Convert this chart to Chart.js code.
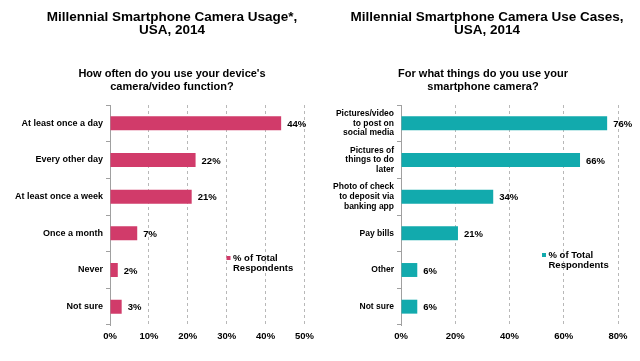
<!DOCTYPE html>
<html>
<head>
<meta charset="utf-8">
<script src="https://cdn.jsdelivr.net/npm/chart.js@4"></script>
<style>
  body { margin: 0; background: #fff; font-family: Arial, "Liberation Sans", sans-serif; }
  .box { position: absolute; top: 0; width: 320px; height: 361px; }
  .title { position: absolute; width: 320px; text-align: center; font-weight: bold; color: #000; line-height: 13px; }
  .main { top: 10px; font-size: 13.5px; }
  .sub { top: 67px; font-size: 11px; }
</style>
</head>
<body>
<div class="box" style="left:0"><canvas id="chartLeft"></canvas></div>
<div class="box" style="left:320px"><canvas id="chartRight"></canvas></div>
<div class="title main" style="left:12px">Millennial Smartphone Camera Usage*,<br>USA, 2014</div>
<div class="title sub" style="left:12px">How often do you use your device's<br>camera/video function?</div>
<div class="title main" style="left:327px">Millennial Smartphone Camera Use Cases,<br>USA, 2014</div>
<div class="title sub" style="left:323px">For what things do you use your<br>smartphone camera?</div>
<script>
// left chart data
const freqLabels = ['At least once a day', 'Every other day', 'At least once a week', 'Once a month', 'Never', 'Not sure'];
const freqValues = [44, 22, 21, 7, 2, 3];
const freqTicks = [0, 10, 20, 30, 40, 50];

// right chart data
const useLabels = [
    ['Pictures/video', 'to post on', 'social media'],
    ['Pictures of', 'things to do', 'later'],
    ['Photo of check', 'to deposit via', 'banking app'],
    'Pay bills', 'Other', 'Not sure'
];
const useValues = [76, 66, 34, 21, 6, 6];
const useTicks = [0, 20, 40, 60, 80];

const seriesName = ['% of Total', 'Respondents'];
const FONT = 'Arial, "Liberation Sans", sans-serif';

// value labels at the end of each bar
const valueLabels = {
    id: 'valueLabels',
    afterDatasetsDraw(chart) {
        const ctx = chart.ctx;
        const meta = chart.getDatasetMeta(0);
        ctx.save();
        ctx.font = 'bold 9.5px ' + FONT;
        ctx.fillStyle = '#000';
        ctx.textBaseline = 'middle';
        meta.data.forEach((bar, i) => {
            ctx.fillText(chart.data.datasets[0].data[i] + '%', bar.x + 6, bar.y + 1);
        });
        ctx.restore();
    }
};

// legend floating inside the plot
const innerLegend = {
    id: 'innerLegend',
    afterDraw(chart, args, opts) {
        const ctx = chart.ctx;
        ctx.save();
        ctx.fillStyle = chart.data.datasets[0].backgroundColor;
        ctx.fillRect(opts.x, opts.y - 2, 4, 4);
        ctx.fillStyle = '#000';
        ctx.font = 'bold 9.5px ' + FONT;
        ctx.textBaseline = 'middle';
        seriesName.forEach((t, i) => ctx.fillText(t, opts.x + 6.5, opts.y + i * 10.5));
        ctx.restore();
    }
};

function makeChart(id, labels, values, ticks, color, leftW, rightPad, tickFont, legendPos) {
    return new Chart(document.getElementById(id), {
        type: 'bar',
        data: {
            labels: labels,
            datasets: [{
                label: seriesName.join(' '),
                data: values,
                backgroundColor: color,
                barPercentage: 0.38,
                categoryPercentage: 1
            }]
        },
        options: {
            indexAxis: 'y',
            responsive: false,
            animation: false,
            layout: { padding: { top: 105, right: rightPad, bottom: 0, left: 0 } },
            plugins: {
                legend: { display: false },
                tooltip: { enabled: false },
                innerLegend: legendPos
            },
            scales: {
                x: {
                    min: ticks[0],
                    max: ticks[ticks.length - 1],
                    afterBuildTicks: s => { s.ticks = ticks.map(v => ({ value: v })); },
                    afterFit: s => { s.height = 36; },
                    grid: { color: '#b8b8b8', drawTicks: false },
                    border: { display: false, dash: [3, 3] },
                    ticks: {
                        padding: 6,
                        color: '#000',
                        font: { family: FONT, size: 9.5, weight: 'bold' },
                        callback: v => v + '%'
                    }
                },
                y: {
                    afterFit: s => { s.width = leftW; },
                    grid: { drawOnChartArea: false, color: '#a0a0a0', tickLength: 4 },
                    border: { display: true, color: '#a0a0a0' },
                    ticks: {
                        padding: 3,
                        color: '#000',
                        font: tickFont
                    }
                }
            }
        },
        plugins: [valueLabels, innerLegend]
    });
}

function sizeCanvas(id) {
    const c = document.getElementById(id);
    c.width = 320; c.height = 361;
    c.style.width = '320px'; c.style.height = '361px';
}
sizeCanvas('chartLeft');
sizeCanvas('chartRight');

makeChart('chartLeft', freqLabels, freqValues, freqTicks, '#d13b6a', 110, 15,
    { family: FONT, size: 9, weight: 'bold', lineHeight: '10px' },
    { x: 226.5, y: 258 });

makeChart('chartRight', useLabels, useValues, useTicks, '#12aaad', 81, 22,
    { family: FONT, size: 8.5, weight: 'bold', lineHeight: '9.7px' },
    { x: 222, y: 255 });
</script>
</body>
</html>
